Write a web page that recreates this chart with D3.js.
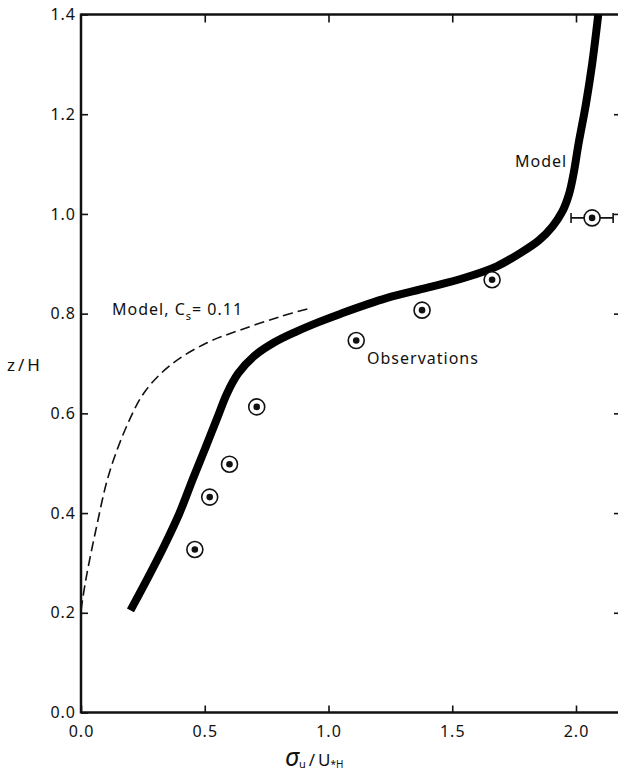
<!DOCTYPE html>
<html>
<head>
<meta charset="utf-8">
<script src="https://cdn.jsdelivr.net/npm/d3@7"></script>
<style>
  body { margin: 0; background: #fff; }
  svg text { font-family: "Noto Sans", sans-serif; fill: #111; }
</style>
</head>
<body>
<svg id="chart" width="618" height="773"></svg>
<script>
const svg = d3.select('#chart');

// solid model curve (sigma_u / u*H vs z/H)
const modelSigma = [0.20, 0.268, 0.336, 0.398, 0.453, 0.502, 0.55, 0.59, 0.635, 0.70, 0.78, 0.87, 0.96, 1.05, 1.234, 1.40, 1.55, 1.68, 1.773, 1.85, 1.905, 1.945, 1.972, 1.99, 2.01, 2.04, 2.065, 2.09];
const modelZ     = [0.205, 0.268, 0.334, 0.40, 0.47, 0.53, 0.59, 0.64, 0.68, 0.715, 0.742, 0.764, 0.783, 0.80, 0.831, 0.852, 0.872, 0.895, 0.921, 0.947, 0.975, 1.005, 1.04, 1.08, 1.14, 1.22, 1.30, 1.40];

// dashed model, Cs = 0.11
const csSigma = [0.0, 0.019, 0.06, 0.114, 0.195, 0.263, 0.37, 0.507, 0.642, 0.805, 0.933];
const csZ     = [0.205, 0.265, 0.366, 0.48, 0.586, 0.647, 0.70, 0.741, 0.767, 0.794, 0.812];

// observations
const obsSigma = [0.46, 0.52, 0.60, 0.71, 1.112, 1.378, 1.661, 2.065];
const obsZ     = [0.327, 0.432, 0.498, 0.613, 0.746, 0.807, 0.868, 0.992];
const obsErr   = [0, 0, 0, 0, 0, 0, 0, 0.085];

const xTicks = [0, 0.5, 1.0, 1.5, 2.0];
const yTicks = [0, 0.2, 0.4, 0.6, 0.8, 1.0, 1.2, 1.4];

const x = d3.scaleLinear().domain([0, 2.2]).range([81, 625.5]);
const y = d3.scaleLinear().domain([0, 1.4]).range([712.5, 14.5]);
const xRight = 620;

//frame lines
const frame = svg.append('g').attr('stroke', '#111').attr('stroke-width', 2.5);
frame.append('line').attr('x1', x(0)).attr('x2', x(0)).attr('y1', y(0) + 1).attr('y2', y(1.4) - 1);
frame.append('line').attr('x1', x(0)).attr('x2', xRight + 5).attr('y1', y(0)).attr('y2', y(0));
frame.append('line').attr('x1', x(0)).attr('x2', xRight + 5).attr('y1', y(1.4)).attr('y2', y(1.4));

const styleAxis = g => {
  g.select('.domain').remove();
  g.selectAll('.tick line').attr('stroke', '#111').attr('stroke-width', 1.6);
  g.selectAll('.tick text')
    .attr('font-family', '"Noto Sans", sans-serif')
    .attr('font-size', 16)
    .attr('letter-spacing', 1)
    .attr('fill', '#111');
};

svg.append('g')
  .attr('transform', `translate(0,${y(0)})`)
  .call(d3.axisBottom(x).tickValues(xTicks).tickSize(-7).tickPadding(13).tickFormat(d3.format('.1f')))
  .call(styleAxis);

svg.append('g')
  .attr('transform', `translate(${x(0)},0)`)
  .call(d3.axisLeft(y).tickValues(yTicks).tickSize(-7).tickPadding(5).tickFormat(d3.format('.1f')))
  .call(styleAxis);

svg.append('g')
  .attr('transform', `translate(0,${y(1.4)})`)
  .call(d3.axisTop(x).tickValues(xTicks.slice(1)).tickSize(-8).tickFormat(''))
  .call(styleAxis);

svg.append('g')
  .attr('transform', `translate(${xRight},0)`)
  .call(d3.axisLeft(y).tickValues(yTicks.slice(1, 7)).tickSize(6).tickFormat(''))
  .call(styleAxis);

// curves
const line = d3.line()
  .x(d => x(d[0]))
  .y(d => y(d[1]))
  .curve(d3.curveCatmullRom.alpha(0.5));

svg.append('path')
  .datum(csSigma.map((s, i) => [s, csZ[i]]))
  .attr('d', line)
  .attr('fill', 'none')
  .attr('stroke', '#111')
  .attr('stroke-width', 1.6)
  .attr('stroke-dasharray', '10,5');

svg.append('path')
  .datum(modelSigma.map((s, i) => [s, modelZ[i]]))
  .attr('d', line)
  .attr('fill', 'none')
  .attr('stroke', '#000')
  .attr('stroke-width', 8)
  .attr('stroke-linecap', 'butt');

// observations with error bar
const obs = obsSigma.map((s, i) => ({ s: s, z: obsZ[i], e: obsErr[i] }));

const errG = svg.append('g').attr('stroke', '#111').attr('stroke-width', 1.6);
obs.filter(d => d.e > 0).forEach(d => {
  errG.append('line').attr('x1', x(d.s - d.e)).attr('x2', x(d.s + d.e)).attr('y1', y(d.z)).attr('y2', y(d.z));
  [d.s - d.e, d.s + d.e].forEach(v => {
    errG.append('line').attr('x1', x(v)).attr('x2', x(v)).attr('y1', y(d.z) - 5).attr('y2', y(d.z) + 5);
  });
});

const pts = svg.selectAll('.obs').data(obs).enter().append('g')
  .attr('class', 'obs')
  .attr('transform', d => `translate(${x(d.s)},${y(d.z)})`);
pts.append('circle').attr('r', 8).attr('fill', '#fff').attr('stroke', '#111').attr('stroke-width', 1.6);
pts.append('circle').attr('r', 3.3).attr('fill', '#111');

// annotations
svg.append('text')
  .attr('x', 515).attr('y', 167)
  .attr('font-size', 16).attr('letter-spacing', 1)
  .text('Model');

svg.append('text')
  .attr('x', 367).attr('y', 364)
  .attr('font-size', 16).attr('letter-spacing', 1)
  .text('Observations');

const cs = svg.append('text')
  .attr('x', 112).attr('y', 315)
  .attr('font-size', 16).attr('letter-spacing', 1);
cs.append('tspan').text('Model, C');
cs.append('tspan').attr('font-size', 11).attr('dy', 5).text('s');
cs.append('tspan').attr('dy', -5).text('= 0.11');

// axis titles
svg.append('text')
  .attr('x', 7).attr('y', 371)
  .attr('font-size', 17).attr('letter-spacing', 3)
  .text('z/H');

const xt = svg.append('text')
  .attr('x', 285).attr('y', 766)
  .attr('font-size', 17);
xt.append('tspan').attr('font-size', 25).attr('font-style', 'italic').text('σ');
xt.append('tspan').attr('font-size', 11).attr('dy', 2).text('u');
xt.append('tspan').attr('dy', -2).attr('dx', 3).text('/');
xt.append('tspan').attr('dx', 3).text('U');
xt.append('tspan').attr('font-size', 10).attr('dy', 2).text('*H');
</script>
</body>
</html>
